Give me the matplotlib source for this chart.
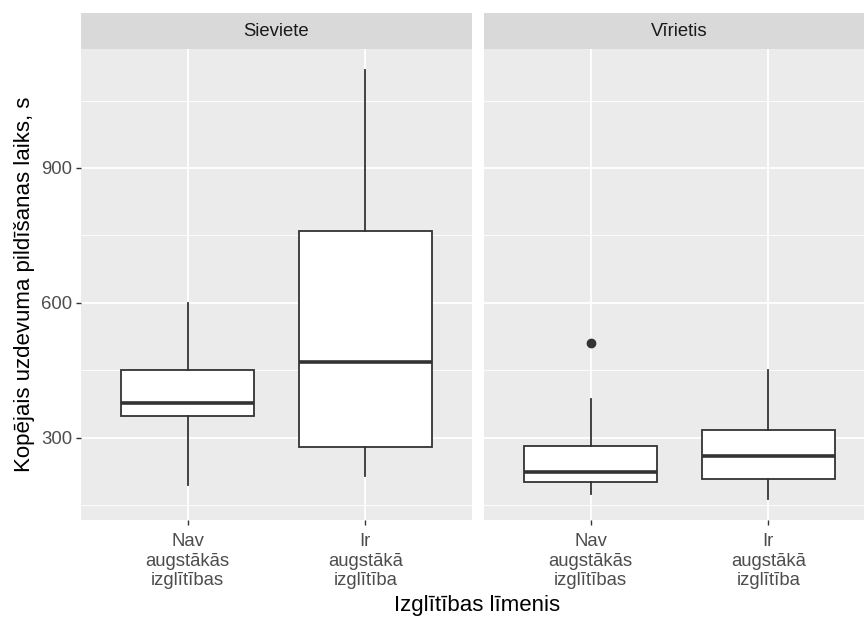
import matplotlib.pyplot as plt
from matplotlib.patches import Rectangle

plt.rcParams['font.family'] = ['Liberation Sans', 'DejaVu Sans']

# facets and categories
genders = ['Sieviete', 'Vīrietis']
education = ['Nav\naugstākās\nizglītības', 'Ir\naugstākā\nizglītība']

# box stats: whislo, q1, med, q3, whishi, outliers
whislo = [[195, 216], [176, 165]]
q1 = [[348, 279], [202, 208]]
med = [[378, 469], [224, 260]]
q3 = [[452, 761], [282, 317]]
whishi = [[600, 1117], [387, 450]]
fliers = [[[], []], [[512], []]]

W, H = 864, 618
fig = plt.figure(figsize=(W / 100, H / 100), dpi=100)

panel_left = [81, 484]
panel_w = 391
top, bottom = 49, 520
strip_top = 13

dark = '#333333'
ylo, yhi = 117.5, 1164.5

for i, g in enumerate(genders):
    ax = fig.add_axes([panel_left[i] / W, (H - bottom) / H, panel_w / W, (bottom - top) / H])
    ax.set_facecolor('#EBEBEB')
    for s in ax.spines.values():
        s.set_visible(False)

    stats = []
    for j in range(len(education)):
        stats.append(dict(whislo=whislo[i][j], q1=q1[i][j], med=med[i][j],
                          q3=q3[i][j], whishi=whishi[i][j], fliers=fliers[i][j]))
    ax.bxp(stats, positions=[1, 2], widths=0.75, patch_artist=True, showcaps=False,
           boxprops=dict(facecolor='white', edgecolor=dark, linewidth=1.3),
           whiskerprops=dict(color=dark, linewidth=1.3),
           medianprops=dict(color=dark, linewidth=2.6),
           flierprops=dict(marker='o', markerfacecolor=dark, markeredgecolor=dark, markersize=6),
           zorder=3)

    ax.set_xlim(0.4, 2.6)
    ax.set_ylim(ylo, yhi)
    ax.set_xticks([1, 2])
    ax.set_yticks([300, 600, 900])
    ax.set_yticks([150, 450, 750, 1050], minor=True)
    ax.grid(True, which='major', color='white', linewidth=1.3, zorder=0)
    ax.grid(True, which='minor', axis='y', color='white', linewidth=0.6, zorder=0)
    ax.set_axisbelow(True)
    ax.tick_params(which='minor', length=0)
    ax.tick_params(which='major', length=3.5, width=1.0, color=dark, labelcolor='#4D4D4D',
                   labelsize=13.3, pad=3)
    ax.tick_params(axis='x', pad=6)
    ax.set_xticklabels(education, linespacing=1.2)
    if i == 0:
        ax.set_ylabel('Kopējais uzdevuma pildīšanas laiks, s', fontsize=16, color='black', labelpad=4)
    else:
        ax.set_yticklabels([])
        ax.tick_params(axis='y', length=0)

    # strip
    sax = fig.add_axes([panel_left[i] / W, (H - top) / H, panel_w / W, (top - strip_top) / H])
    sax.add_patch(Rectangle((0, 0), 1, 1, facecolor='#D9D9D9', edgecolor='none',
                            transform=sax.transAxes))
    sax.set_axis_off()
    sax.text(0.5, 0.5, g, ha='center', va='center', fontsize=13.3, color='#1A1A1A',
             transform=sax.transAxes)

fig.text(477 / W, 1 - 606 / H, 'Izglītības līmenis', ha='center', va='center', fontsize=16)

fig.savefig('out.png', dpi=100)
